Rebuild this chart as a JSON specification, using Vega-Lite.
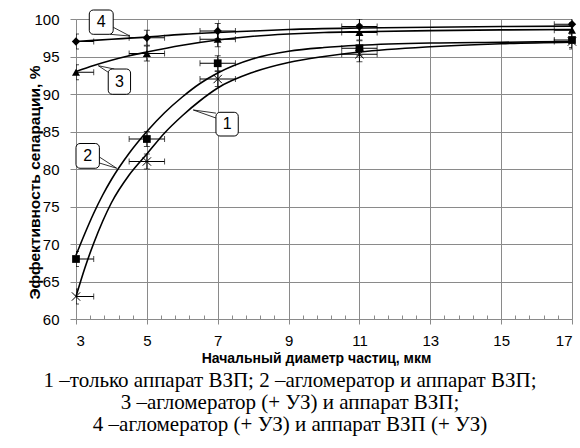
{
  "$schema": "https://vega.github.io/schema/vega-lite/v6.json",
  "width": 496,
  "height": 300,
  "autosize": {"type": "none"},
  "padding": {"left": 76, "top": 19, "right": 8, "bottom": 129},
  "background": "white",
  "config": {"view": {"stroke": null}, "font": "Liberation Sans"},
  "title": {
    "text": ["1 –только аппарат ВЗП; 2 –агломератор и аппарат ВЗП;", "3 –агломератор (+ УЗ) и аппарат ВЗП;", "4 –агломератор (+ УЗ) и аппарат ВЗП (+ УЗ)"],
    "orient": "bottom",
    "anchor": "middle",
    "font": "Liberation Serif",
    "fontSize": 21,
    "fontWeight": "normal",
    "lineHeight": 22,
    "color": "black",
    "dx": -34,
    "offset": 5
  },
  "datasets": {
    "curves": [
      {"s": 1, "x": 3, "y": 63.0}, {"s": 1, "x": 3.25, "y": 66.8}, {"s": 1, "x": 3.5, "y": 70.1}, {"s": 1, "x": 3.75, "y": 73.0},
      {"s": 1, "x": 4, "y": 75.5}, {"s": 1, "x": 4.5, "y": 79.2}, {"s": 1, "x": 5, "y": 82.0}, {"s": 1, "x": 5.5, "y": 84.8},
      {"s": 1, "x": 6, "y": 87.1}, {"s": 1, "x": 6.5, "y": 89.1}, {"s": 1, "x": 7, "y": 90.8}, {"s": 1, "x": 8, "y": 92.9},
      {"s": 1, "x": 9, "y": 94.2}, {"s": 1, "x": 10, "y": 95.0}, {"s": 1, "x": 11, "y": 95.6}, {"s": 1, "x": 13, "y": 96.3},
      {"s": 1, "x": 15, "y": 96.7}, {"s": 1, "x": 17, "y": 96.9},
      {"s": 2, "x": 3, "y": 68.5}, {"s": 2, "x": 3.25, "y": 71.4}, {"s": 2, "x": 3.5, "y": 74.1}, {"s": 2, "x": 3.75, "y": 76.5},
      {"s": 2, "x": 4, "y": 78.6}, {"s": 2, "x": 4.5, "y": 82.1}, {"s": 2, "x": 5, "y": 85.0}, {"s": 2, "x": 5.5, "y": 87.5},
      {"s": 2, "x": 6, "y": 89.6}, {"s": 2, "x": 6.5, "y": 91.4}, {"s": 2, "x": 7, "y": 92.8}, {"s": 2, "x": 8, "y": 94.7},
      {"s": 2, "x": 9, "y": 95.7}, {"s": 2, "x": 10, "y": 96.2}, {"s": 2, "x": 11, "y": 96.5}, {"s": 2, "x": 13, "y": 96.8},
      {"s": 2, "x": 15, "y": 96.9}, {"s": 2, "x": 17, "y": 97.0},
      {"s": 3, "x": 3, "y": 93.0}, {"s": 3, "x": 3.5, "y": 93.8}, {"s": 3, "x": 4, "y": 94.5}, {"s": 3, "x": 4.5, "y": 95.1},
      {"s": 3, "x": 5, "y": 95.6}, {"s": 3, "x": 6, "y": 96.5}, {"s": 3, "x": 7, "y": 97.2}, {"s": 3, "x": 8, "y": 97.7},
      {"s": 3, "x": 9, "y": 98.0}, {"s": 3, "x": 10, "y": 98.2}, {"s": 3, "x": 11, "y": 98.3}, {"s": 3, "x": 13, "y": 98.45},
      {"s": 3, "x": 15, "y": 98.55}, {"s": 3, "x": 17, "y": 98.6},
      {"s": 4, "x": 3, "y": 97.0}, {"s": 4, "x": 4, "y": 97.3}, {"s": 4, "x": 5, "y": 97.6}, {"s": 4, "x": 6, "y": 97.95},
      {"s": 4, "x": 7, "y": 98.2}, {"s": 4, "x": 8, "y": 98.4}, {"s": 4, "x": 9, "y": 98.6}, {"s": 4, "x": 11, "y": 98.8},
      {"s": 4, "x": 13, "y": 98.9}, {"s": 4, "x": 15, "y": 99.0}, {"s": 4, "x": 17, "y": 99.05}
    ],
    "points": [
      {"s": 1, "x": 3, "y": 63, "xlo": 2.5, "xhi": 3.5, "ylo": 62, "yhi": 64},
      {"s": 1, "x": 5, "y": 81, "xlo": 4.5, "xhi": 5.5, "ylo": 80, "yhi": 82},
      {"s": 1, "x": 7, "y": 92, "xlo": 6.5, "xhi": 7.5, "ylo": 91, "yhi": 93},
      {"s": 1, "x": 11, "y": 95.3, "xlo": 10.5, "xhi": 11.5, "ylo": 94.3, "yhi": 96.3},
      {"s": 1, "x": 17, "y": 97, "xlo": 16.5, "xhi": 17.5, "ylo": 96, "yhi": 98},
      {"s": 2, "x": 3, "y": 68, "xlo": 2.5, "xhi": 3.5, "ylo": 67, "yhi": 69},
      {"s": 2, "x": 5, "y": 84, "xlo": 4.5, "xhi": 5.5, "ylo": 83, "yhi": 85},
      {"s": 2, "x": 7, "y": 94.1, "xlo": 6.5, "xhi": 7.5, "ylo": 93.1, "yhi": 95.1},
      {"s": 2, "x": 11, "y": 96.1, "xlo": 10.5, "xhi": 11.5, "ylo": 95.1, "yhi": 97.1},
      {"s": 2, "x": 17, "y": 97.2, "xlo": 16.5, "xhi": 17.5, "ylo": 96.2, "yhi": 98.2},
      {"s": 3, "x": 3, "y": 92.9, "xlo": 2.5, "xhi": 3.5, "ylo": 91.9, "yhi": 93.9},
      {"s": 3, "x": 5, "y": 95.4, "xlo": 4.5, "xhi": 5.5, "ylo": 94.4, "yhi": 96.4},
      {"s": 3, "x": 7, "y": 97.3, "xlo": 6.5, "xhi": 7.5, "ylo": 96.3, "yhi": 98.3},
      {"s": 3, "x": 11, "y": 98.2, "xlo": 10.5, "xhi": 11.5, "ylo": 97.2, "yhi": 99.2},
      {"s": 3, "x": 17, "y": 98.5, "xlo": 16.5, "xhi": 17.5, "ylo": 97.5, "yhi": 99.5},
      {"s": 4, "x": 3, "y": 97, "xlo": 2.5, "xhi": 3.5, "ylo": 96, "yhi": 98},
      {"s": 4, "x": 5, "y": 97.5, "xlo": 4.5, "xhi": 5.5, "ylo": 96.5, "yhi": 98.5},
      {"s": 4, "x": 7, "y": 98.4, "xlo": 6.5, "xhi": 7.5, "ylo": 97.4, "yhi": 99.4},
      {"s": 4, "x": 11, "y": 99.0, "xlo": 10.5, "xhi": 11.5, "ylo": 98.0, "yhi": 100},
      {"s": 4, "x": 17, "y": 99.3, "xlo": 16.5, "xhi": 17.5, "ylo": 98.3, "yhi": 100.3}
    ],
    "boxes": [
      {"label": "1", "x1": 6.95, "x2": 7.58, "y1": 87.56, "y2": 84.4, "cx": 7.265, "cy": 85.98},
      {"label": "2", "x1": 3.0, "x2": 3.66, "y1": 83.4, "y2": 80.1, "cx": 3.33, "cy": 81.75},
      {"label": "3", "x1": 3.91, "x2": 4.54, "y1": 93.33, "y2": 89.96, "cx": 4.225, "cy": 91.65},
      {"label": "4", "x1": 3.375, "x2": 4.05, "y1": 101.2, "y2": 97.96, "cx": 3.71, "cy": 99.58}
    ],
    "pointers": [
      {"x1": 6.95, "y1": 87.45, "x2": 6.31, "y2": 87.87},
      {"x1": 6.95, "y1": 86.8, "x2": 6.31, "y2": 87.87},
      {"x1": 3.66, "y1": 81.6, "x2": 4.15, "y2": 80.1},
      {"x1": 3.66, "y1": 80.8, "x2": 4.15, "y2": 80.1},
      {"x1": 3.91, "y1": 92.9, "x2": 3.63, "y2": 93.77},
      {"x1": 4.08, "y1": 93.33, "x2": 3.63, "y2": 93.77},
      {"x1": 4.05, "y1": 98.9, "x2": 4.52, "y2": 97.73},
      {"x1": 3.96, "y1": 97.96, "x2": 4.52, "y2": 97.73}
    ]
  },
  "encoding": {
    "y": {
      "type": "quantitative",
      "scale": {"domain": [60, 100], "nice": false, "zero": false},
      "axis": {
        "values": [60, 65, 70, 75, 80, 85, 90, 95, 100],
        "labelOverlap": false,
        "grid": true, "gridColor": "#8a8a8a", "gridWidth": 1,
        "domainColor": "#8a8a8a", "tickColor": "#8a8a8a", "tickSize": 6,
        "labelFont": "Liberation Sans", "labelFontSize": 15, "labelColor": "black", "labelPadding": 11,
        "title": "Эффективность сепарации, %", "titleFont": "Liberation Sans", "titleFontSize": 15.5,
        "titleFontWeight": "bold", "titleColor": "black", "titleX": -42, "titleY": 163, "titleBaseline": "middle"
      }
    },
    "x": {
      "type": "quantitative",
      "scale": {"domain": [3, 17], "nice": false, "zero": false},
      "axis": {
        "values": [3, 3.4, 3.8, 4.2, 4.6, 5, 5.4, 5.8, 6.2, 6.6, 7, 7.4, 7.8, 8.2, 8.6, 9, 9.4, 9.8, 10.2, 10.6, 11, 11.4, 11.8, 12.2, 12.6, 13, 13.4, 13.8, 14.2, 14.6, 15, 15.4, 15.8, 16.2, 16.6, 17],
        "labelExpr": "abs(datum.value - round(datum.value)) < 0.01 ? format(datum.value, 'd') : ''",
        "labelOverlap": false,
        "grid": true, "gridColor": "#8a8a8a", "gridWidth": 1,
        "gridOpacity": {"condition": {"test": "abs(datum.value - round(datum.value)) < 0.01", "value": 1}, "value": 0},
        "tickSize": {"condition": {"test": "abs(datum.value - round(datum.value)) < 0.01", "value": 5}, "value": -4},
        "domainColor": "#8a8a8a", "tickColor": "#8a8a8a",
        "labelFont": "Liberation Sans", "labelFontSize": 15, "labelColor": "black", "labelPadding": 9,
        "title": "Начальный диаметр частиц, мкм", "titleFont": "Liberation Sans", "titleFontSize": 14,
        "titleFontWeight": "bold", "titleColor": "black", "titlePadding": 3, "titleX": 240
      }
    }
  },
  "layer": [
    {
      "data": {"name": "curves"},
      "mark": {"type": "line", "interpolate": "monotone", "color": "black", "strokeWidth": 1.6},
      "encoding": {
        "x": {"field": "x"},
        "y": {"field": "y"},
        "detail": {"field": "s", "type": "nominal"},
        "order": {"field": "x", "type": "quantitative"}
      }
    },
    {
      "data": {"name": "points"},
      "mark": {"type": "rule", "color": "black", "strokeWidth": 1, "clip": true},
      "encoding": {
        "x": {"field": "x"},
        "y": {"field": "ylo"},
        "y2": {"field": "yhi"}
      }
    },
    {
      "data": {"name": "points"},
      "mark": {"type": "rule", "color": "black", "strokeWidth": 1, "clip": true},
      "encoding": {
        "x": {"field": "xlo"},
        "x2": {"field": "xhi"},
        "y": {"field": "y"}
      }
    },
    {
      "data": {"name": "points"},
      "mark": {"type": "tick", "orient": "horizontal", "size": 6, "thickness": 1, "color": "black", "clip": true},
      "encoding": {
        "x": {"field": "x"},
        "y": {"field": "ylo"}
      }
    },
    {
      "data": {"name": "points"},
      "mark": {"type": "tick", "orient": "horizontal", "size": 6, "thickness": 1, "color": "black", "clip": true},
      "encoding": {
        "x": {"field": "x"},
        "y": {"field": "yhi"}
      }
    },
    {
      "data": {"name": "points"},
      "mark": {"type": "tick", "orient": "vertical", "size": 6, "thickness": 1, "color": "black", "clip": true},
      "encoding": {
        "x": {"field": "xlo"},
        "y": {"field": "y"}
      }
    },
    {
      "data": {"name": "points"},
      "mark": {"type": "tick", "orient": "vertical", "size": 6, "thickness": 1, "color": "black", "clip": true},
      "encoding": {
        "x": {"field": "xhi"},
        "y": {"field": "y"}
      }
    },
    {
      "data": {"name": "points"},
      "transform": [{"filter": "datum.s == 1"}],
      "mark": {"type": "point", "shape": "M-1,-1L1,1M-1,1L1,-1", "filled": false, "stroke": "black", "strokeWidth": 1, "size": 70, "opacity": 1},
      "encoding": {
        "x": {"field": "x"},
        "y": {"field": "y"}
      }
    },
    {
      "data": {"name": "points"},
      "transform": [{"filter": "datum.s > 1"}],
      "mark": {"type": "point", "filled": true, "color": "black", "opacity": 1},
      "encoding": {
        "x": {"field": "x"},
        "y": {"field": "y"},
        "shape": {
          "field": "s", "type": "nominal",
          "scale": {"domain": [2, 3, 4], "range": ["square", "triangle-up", "diamond"]},
          "legend": null
        },
        "size": {
          "field": "s", "type": "nominal",
          "scale": {"domain": [2, 3, 4], "range": [60, 70, 70]},
          "legend": null
        }
      }
    },
    {
      "data": {"name": "pointers"},
      "mark": {"type": "rule", "color": "black", "strokeWidth": 0.8},
      "encoding": {
        "x": {"field": "x1"},
        "x2": {"field": "x2"},
        "y": {"field": "y1"},
        "y2": {"field": "y2"}
      }
    },
    {
      "data": {"name": "boxes"},
      "mark": {"type": "rect", "fill": "white", "stroke": "black", "strokeWidth": 1, "cornerRadius": 4},
      "encoding": {
        "x": {"field": "x1"},
        "x2": {"field": "x2"},
        "y": {"field": "y1"},
        "y2": {"field": "y2"}
      }
    },
    {
      "data": {"name": "boxes"},
      "mark": {"type": "text", "font": "Liberation Sans", "fontSize": 16, "color": "black", "align": "center", "baseline": "middle"},
      "encoding": {
        "x": {"field": "cx"},
        "y": {"field": "cy"},
        "text": {"field": "label"}
      }
    }
  ]
}
